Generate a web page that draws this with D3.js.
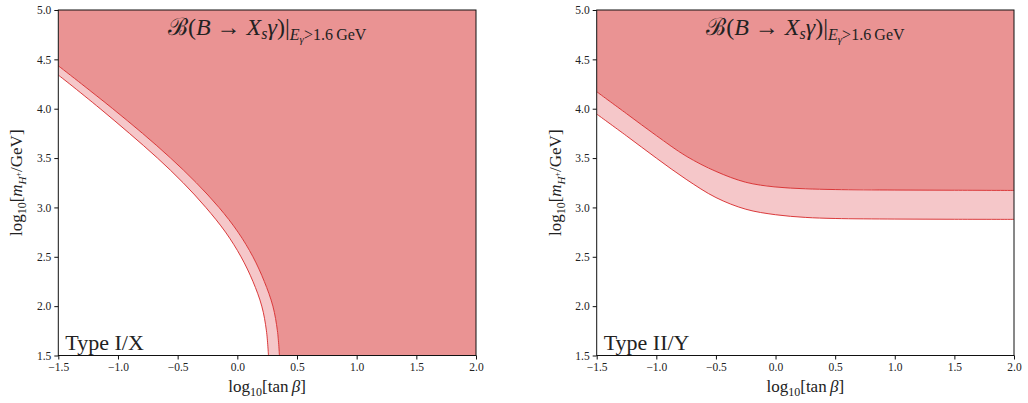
<!DOCTYPE html>
<html>
<head>
<meta charset="utf-8">
<script src="https://cdn.jsdelivr.net/npm/d3@7"></script>
<style>
  body { margin: 0; background: #fff; }
  svg text { font-family: "Liberation Serif", "DejaVu Serif", serif; fill: #222; }
</style>
</head>
<body>
<div id="chart"></div>
<script>
// boundary curves, [log10 tanβ, log10 mH+]
var typeIUpper = [[-1.5, 4.435], [-1.304, 4.25], [-1.044, 4.0], [-0.794, 3.75], [-0.559, 3.5], [-0.344, 3.25],
    [-0.154, 3.0], [0.006, 2.75], [0.131, 2.5], [0.226, 2.25], [0.298, 2.0], [0.336, 1.75], [0.353, 1.5]];
var typeILower = [[-1.5, 4.341], [-1.404, 4.25], [-1.149, 4.0], [-0.904, 3.75], [-0.669, 3.5], [-0.454, 3.25],
    [-0.264, 3.0], [-0.099, 2.75], [0.031, 2.5], [0.131, 2.25], [0.205, 2.0], [0.244, 1.75], [0.261, 1.5]];
var typeIIUpper = [[-1.5, 4.172], [-1.25, 3.95], [-1.0, 3.728], [-0.75, 3.52], [-0.5, 3.365], [-0.25, 3.255],
    [0.0, 3.207], [0.25, 3.189], [0.5, 3.181], [1.0, 3.176], [1.5, 3.174], [2.0, 3.172]];
var typeIILower = [[-1.5, 3.946], [-1.25, 3.725], [-1.0, 3.50], [-0.75, 3.285], [-0.5, 3.10], [-0.25, 2.982],
    [0.0, 2.926], [0.25, 2.899], [0.5, 2.888], [1.0, 2.882], [1.5, 2.880], [2.0, 2.879]];

var xTicks = [-1.5, -1.0, -0.5, 0.0, 0.5, 1.0, 1.5, 2.0];
var yTicks = [1.5, 2.0, 2.5, 3.0, 3.5, 4.0, 4.5, 5.0];
var panelNames = ["Type I/X", "Type II/Y"];

var width = 1028, height = 403;
var darkFill = "#ea9393", lightFill = "#f5c7c9", edge = "#d62728";

var svg = d3.select("#chart").append("svg")
    .attr("width", width)
    .attr("height", height);

var panels = [
    { left: 58.3, right: 476, upper: typeIUpper, lower: typeILower, name: panelNames[0], id: "p1" },
    { left: 596.7, right: 1014, upper: typeIIUpper, lower: typeIILower, name: panelNames[1], id: "p2" }
];

panels.forEach(function (p) {
    var top = 10, bottom = 355.5;
    var x = d3.scaleLinear().domain([-1.5, 2.0]).range([p.left, p.right]);
    var y = d3.scaleLinear().domain([1.5, 5.0]).range([bottom, top]);
    var line = d3.line()
        .x(function (d) { return x(d[0]); })
        .y(function (d) { return y(d[1]); })
        .curve(d3.curveCatmullRom);

    var g = svg.append("g");

    g.append("clipPath").attr("id", "clip-" + p.id)
        .append("rect")
        .attr("x", p.left).attr("y", top)
        .attr("width", p.right - p.left).attr("height", bottom - top);

    var area = g.append("g").attr("clip-path", "url(#clip-" + p.id + ")");

    // excluded region: above the upper curve
    var last = p.upper[p.upper.length - 1];
    var corners = [];
    if (last[1] <= 1.5) corners.push([2.0, 1.5]);
    corners.push([2.0, 5.0], [-1.5, 5.0]);
    var darkPath = line(p.upper) + corners.map(function (c) {
        return "L" + x(c[0]) + "," + y(c[1]);
    }).join("") + "Z";
    area.append("path").attr("d", darkPath).attr("fill", darkFill);

    // uncertainty band
    var bandPath = line(p.lower) + line(p.upper.slice().reverse()).replace(/^M/, "L") + "Z";
    area.append("path").attr("d", bandPath).attr("fill", lightFill);

    [p.upper, p.lower].forEach(function (c) {
        area.append("path").attr("d", line(c))
            .attr("fill", "none").attr("stroke", edge).attr("stroke-width", 0.9);
    });

    // frame
    g.append("rect")
        .attr("x", p.left).attr("y", top)
        .attr("width", p.right - p.left).attr("height", bottom - top)
        .attr("fill", "none").attr("stroke", "#111").attr("stroke-width", 1);

    var xAxis = g.append("g")
        .attr("transform", "translate(0," + bottom + ")")
        .call(d3.axisBottom(x).tickValues(xTicks).tickFormat(d3.format(".1f")).tickSize(4).tickPadding(3));
    var yAxis = g.append("g")
        .attr("transform", "translate(" + p.left + ",0)")
        .call(d3.axisLeft(y).tickValues(yTicks).tickFormat(d3.format(".1f")).tickSize(4).tickPadding(3));
    [xAxis, yAxis].forEach(function (a) {
        a.select(".domain").remove();
        a.selectAll("line").attr("stroke", "#111");
        a.selectAll("text").attr("font-size", 11.5).attr("fill", "#222");
    });

    var cx = (p.left + p.right) / 2;

    // x label
    var xl = g.append("text").attr("x", cx).attr("y", 392)
        .attr("text-anchor", "middle").attr("font-size", 17);
    xl.append("tspan").text("log");
    xl.append("tspan").attr("font-size", 12).attr("dy", 4).text("10");
    xl.append("tspan").attr("dy", -4).text("[tan\u2009");
    xl.append("tspan").attr("font-style", "italic").text("β");
    xl.append("tspan").text("]");

    // y label
    var yl = g.append("text")
        .attr("transform", "translate(" + (p.left - 36) + "," + ((top + bottom) / 2) + ") rotate(-90)")
        .attr("text-anchor", "middle").attr("font-size", 17);
    yl.append("tspan").text("log");
    yl.append("tspan").attr("font-size", 12).attr("dy", 4).text("10");
    yl.append("tspan").attr("dy", -4).text("[");
    yl.append("tspan").attr("font-style", "italic").text("m");
    yl.append("tspan").attr("font-style", "italic").attr("font-size", 11).attr("dy", 4).text("H");
    yl.append("tspan").attr("font-size", 8).attr("dy", -5).text("+");
    yl.append("tspan").attr("dy", 1).text("/GeV]");

    // title
    var t = g.append("text").attr("x", cx).attr("y", 35)
        .attr("text-anchor", "middle").attr("font-size", 24);
    t.append("tspan").text("ℬ");
    t.append("tspan").text("(");
    t.append("tspan").attr("font-style", "italic").text("B");
    t.append("tspan").text(" → ");
    t.append("tspan").attr("font-style", "italic").text("X");
    t.append("tspan").attr("font-style", "italic").attr("font-size", 16).attr("dy", 4).text("s");
    t.append("tspan").attr("font-style", "italic").attr("dy", -4).text("γ");
    t.append("tspan").text(")|");
    t.append("tspan").attr("font-style", "italic").attr("font-size", 16).attr("dy", 5).text("E");
    t.append("tspan").attr("font-style", "italic").attr("font-size", 11).attr("dy", 3).text("γ");
    t.append("tspan").attr("font-size", 16).attr("dy", -3).text(">1.6\u2009GeV");

    // panel name
    g.append("text").attr("x", p.left + 7).attr("y", 350)
        .attr("font-size", 22).text(p.name);
});
</script>
</body>
</html>
